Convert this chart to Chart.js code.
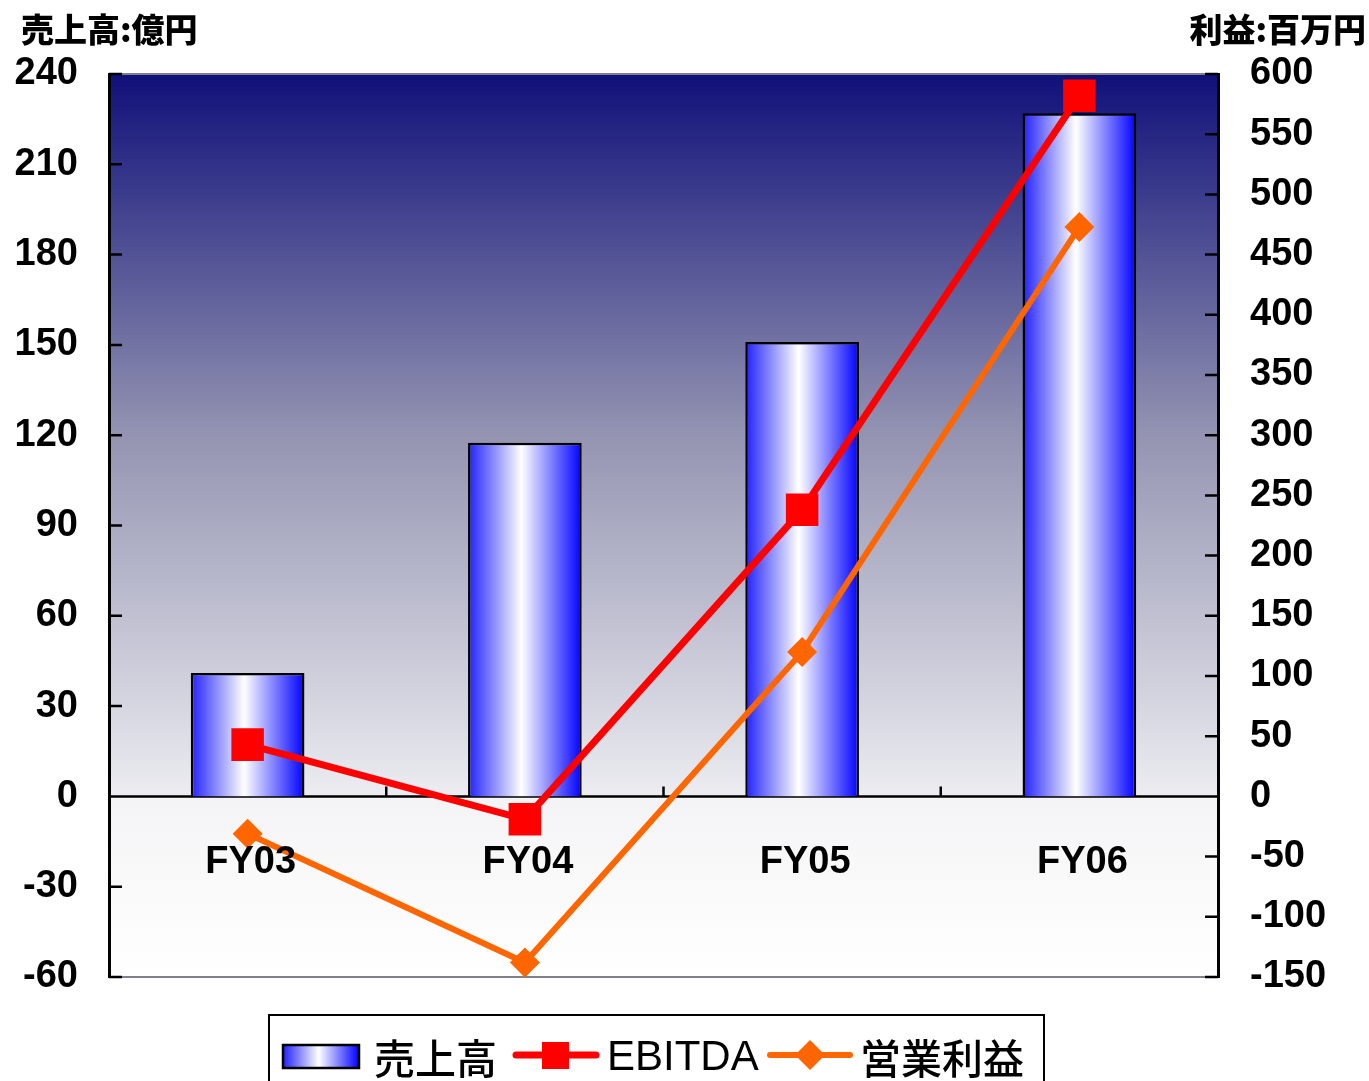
<!DOCTYPE html>
<html>
<head>
<meta charset="utf-8">
<script src="https://cdn.jsdelivr.net/npm/chart.js@4"></script>
<style>
  body { margin: 0; background: #fff; }
  canvas { display: block; }
</style>
</head>
<body>
<canvas id="salesChart" width="1369" height="1081"></canvas>
<script>
const CATEGORIES = ['FY03', 'FY04', 'FY05', 'FY06'];
const SALES = [41, 117.5, 151, 227];          // 売上高 (億円)
const EBITDA = [43, -19, 238, 582];           // 百万円
const OP_PROFIT = [-31, -138, 120, 473];      // 営業利益 (百万円)
const SALES_TICKS = [-60, -30, 0, 30, 60, 90, 120, 150, 180, 210, 240];
const PROFIT_TICKS = [-150, -100, -50, 0, 50, 100, 150, 200, 250, 300, 350, 400, 450, 500, 550, 600];

const CHART = document.getElementById('salesChart');
const TICK_FONT = { family: '"Liberation Sans", Arial, sans-serif', size: 38, weight: 'bold' };
const CJK = '"Noto Sans CJK JP", sans-serif';
const BAR_PCT = 0.41;

function barGradient(ctx, x0, x1) {
    const g = ctx.createLinearGradient(x0, 0, x1, 0);
    g.addColorStop(0, '#2020ff');
    g.addColorStop(0.47, '#ffffff');
    g.addColorStop(1, '#0000ff');
    return g;
}

const decor = {
    id: 'decor',
    beforeDraw(chart) {
        const { ctx, chartArea: a, scales } = chart;
        const zeroY = scales.y.getPixelForValue(0);
        ctx.save();
        let g = ctx.createLinearGradient(0, a.top, 0, zeroY);
        g.addColorStop(0, '#10107a');
        g.addColorStop(0.5, '#9494b2');
        g.addColorStop(1, '#ececf1');
        ctx.fillStyle = g;
        ctx.fillRect(a.left, a.top, a.right - a.left, zeroY - a.top);
        g = ctx.createLinearGradient(0, zeroY, 0, a.bottom);
        g.addColorStop(0, '#f4f4f6');
        g.addColorStop(1, '#ffffff');
        ctx.fillStyle = g;
        ctx.fillRect(a.left, zeroY, a.right - a.left, a.bottom - zeroY);
        // top and bottom frame
        ctx.strokeStyle = '#808088';
        ctx.lineWidth = 2;
        ctx.beginPath();
        ctx.moveTo(a.left, a.top); ctx.lineTo(a.right, a.top);
        ctx.moveTo(a.left, a.bottom); ctx.lineTo(a.right, a.bottom);
        ctx.stroke();
        ctx.restore();
    },
    beforeDatasetsDraw(chart) {
        const { ctx, chartArea: a, scales } = chart;
        const zeroY = scales.y.getPixelForValue(0);
        ctx.save();
        ctx.strokeStyle = '#000';
        ctx.lineWidth = 2.5;
        ctx.beginPath();
        ctx.moveTo(a.left, zeroY); ctx.lineTo(a.right, zeroY);
        // tick marks inside plot
        SALES_TICKS.forEach(v => {
            const y = scales.y.getPixelForValue(v);
            ctx.moveTo(a.left, y); ctx.lineTo(a.left + 13, y);
        });
        PROFIT_TICKS.forEach(v => {
            const y = scales.y2.getPixelForValue(v);
            ctx.moveTo(a.right, y); ctx.lineTo(a.right - 13, y);
        });
        const cw = (a.right - a.left) / CATEGORIES.length;
        for (let i = 1; i < CATEGORIES.length; i++) {
            const x = a.left + cw * i;
            ctx.moveTo(x, zeroY); ctx.lineTo(x, zeroY - 10);
        }
        ctx.stroke();
        ctx.restore();
    },
    afterDatasetsDraw(chart) {
        const { ctx, scales } = chart;
        const zeroY = scales.y.getPixelForValue(0);
        ctx.save();
        ctx.font = 'bold 38px "Liberation Sans", Arial, sans-serif';
        ctx.fillStyle = '#000';
        ctx.textAlign = 'center';
        ctx.textBaseline = 'middle';
        CATEGORIES.forEach((c, i) => {
            ctx.fillText(c, scales.x.getPixelForValue(i) + 3, zeroY + 66);
        });
        ctx.restore();
    },
    afterDraw(chart) {
        const ctx = chart.ctx;
        ctx.save();
        ctx.fillStyle = '#000';
        ctx.textBaseline = 'middle';
        ctx.font = '900 33px ' + CJK;
        ctx.textAlign = 'left';
        ctx.fillText('売上高:億円', 21, 29);
        ctx.textAlign = 'right';
        ctx.fillText('利益:百万円', 1366, 29);

        // legend
        ctx.strokeStyle = '#000';
        ctx.lineWidth = 2;
        ctx.strokeRect(269, 1015, 775, 100);
        ctx.fillStyle = barGradient(ctx, 283, 359);
        ctx.fillRect(283, 1045, 76, 23);
        ctx.lineWidth = 2.5;
        ctx.strokeRect(283, 1045, 76, 23);

        ctx.fillStyle = '#000';
        ctx.textAlign = 'left';
        ctx.font = '500 41px ' + CJK;
        ctx.fillText('売上高', 374, 1058);

        ctx.strokeStyle = '#ff0000';
        ctx.lineWidth = 7;
        ctx.lineCap = 'round';
        ctx.beginPath(); ctx.moveTo(516, 1055); ctx.lineTo(596, 1055); ctx.stroke();
        ctx.fillStyle = '#ff0000';
        ctx.fillRect(542, 1042, 27, 27);

        ctx.fillStyle = '#000';
        ctx.font = '42px "Liberation Sans", Arial, sans-serif';
        ctx.fillText('EBITDA', 607, 1058);

        ctx.strokeStyle = '#ff6600';
        ctx.lineWidth = 6;
        ctx.beginPath(); ctx.moveTo(770, 1055); ctx.lineTo(850, 1055); ctx.stroke();
        ctx.fillStyle = '#ff6600';
        ctx.beginPath();
        ctx.moveTo(810, 1040); ctx.lineTo(825, 1055); ctx.lineTo(810, 1070); ctx.lineTo(795, 1055);
        ctx.closePath(); ctx.fill();

        ctx.fillStyle = '#000';
        ctx.font = '500 41px ' + CJK;
        ctx.fillText('営業利益', 860, 1058);
        ctx.restore();
    }
};

new Chart(CHART, {
    type: 'bar',
    data: {
        labels: CATEGORIES,
        datasets: [
            {
                type: 'line',
                label: 'EBITDA',
                data: EBITDA,
                yAxisID: 'y2',
                borderColor: '#ff0000',
                backgroundColor: '#ff0000',
                borderWidth: 7,
                tension: 0,
                pointStyle: 'rect',
                pointRadius: 23,
                pointBorderWidth: 0,
                order: 1
            }, {
                type: 'line',
                label: '営業利益',
                data: OP_PROFIT,
                yAxisID: 'y2',
                borderColor: '#ff6600',
                backgroundColor: '#ff6600',
                borderWidth: 6,
                tension: 0,
                pointStyle: 'rectRot',
                pointRadius: 15,
                pointBorderWidth: 0,
                order: 0
            }, {
                label: '売上高',
                data: SALES,
                yAxisID: 'y',
                backgroundColor: (c) => {
                    const ch = c.chart;
                    if (c.type !== 'data' || !ch.chartArea || !ch.scales.x) return '#6060ff';
                    const a = ch.chartArea;
                    const cx = ch.scales.x.getPixelForValue(c.dataIndex);
                    const w = (a.right - a.left) / CATEGORIES.length * BAR_PCT;
                    return barGradient(ch.ctx, cx - w / 2, cx + w / 2);
                },
                borderColor: '#000',
                borderWidth: 2.5,
                categoryPercentage: 1,
                barPercentage: BAR_PCT,
                order: 2
            }
        ]
    },
    options: {
        responsive: false,
        animation: false,
        layout: { padding: { top: 74, bottom: 104, left: 0, right: 0 } },
        plugins: { legend: { display: false }, tooltip: { enabled: false } },
        scales: {
            x: { display: false, offset: true },
            y: {
                position: 'left',
                min: SALES_TICKS[0],
                max: SALES_TICKS[SALES_TICKS.length - 1],
                ticks: { stepSize: SALES_TICKS[1] - SALES_TICKS[0], color: '#000', font: TICK_FONT, padding: 31 },
                grid: { display: false, drawTicks: false, tickLength: 0 },
                border: { display: true, color: '#000', width: 3 },
                afterFit: s => { s.width = 109; }
            },
            y2: {
                position: 'right',
                min: PROFIT_TICKS[0],
                max: PROFIT_TICKS[PROFIT_TICKS.length - 1],
                ticks: { stepSize: PROFIT_TICKS[1] - PROFIT_TICKS[0], color: '#000', font: TICK_FONT, padding: 32 },
                grid: { display: false, drawTicks: false, tickLength: 0 },
                border: { display: true, color: '#000', width: 3 },
                afterFit: s => { s.width = 151; }
            }
        }
    },
    plugins: [decor]
});
</script>
</body>
</html>
